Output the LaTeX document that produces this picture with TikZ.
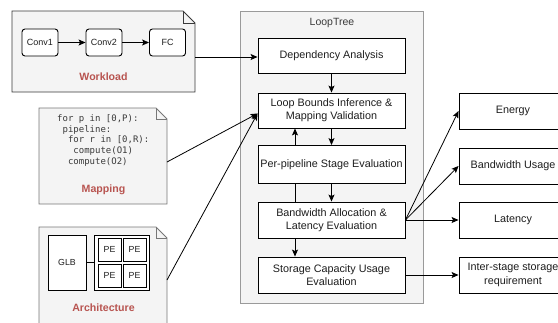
\documentclass[tikz,border=0pt]{standalone}
\usepackage{fontspec}
\setmainfont{Liberation Sans}
\newfontfamily\codefont{DejaVu Sans Mono}
\usetikzlibrary{arrows.meta,calc}

\definecolor{notefill}{HTML}{F4F4F4}
\definecolor{notedark}{HTML}{3A3A3A}
\definecolor{notegray}{HTML}{777777}
\definecolor{panelgray}{HTML}{9A9A9A}
\definecolor{titlered}{HTML}{B85450}
\definecolor{inktext}{HTML}{1E1E1E}

% folded-corner note: #1 = top-left, #2 = bottom-right, #3 = fold size
\newcommand{\notebox}[4]{%
  \path let \p1=#1, \p2=#2 in
    coordinate (nbA) at (\x1,\y1) coordinate (nbB) at (\x2,\y2);
  \filldraw[fill=notefill,draw=#4,line width=0.9pt]
    (nbA) -- ($(nbA -| nbB)+(-#3,0)$) -- ($(nbA -| nbB)+(0,#3)$)
    -- (nbB) -- (nbA |- nbB) -- cycle;
  \draw[draw=#4,line width=0.9pt]
    ($(nbA -| nbB)+(-#3,0)$) -- ($(nbA -| nbB)+(-#3,#3)$) -- ($(nbA -| nbB)+(0,#3)$);
}

\tikzset{
  x=1pt, y=-1pt,
  arr/.style={-{Stealth[length=7pt,width=6pt,inset=1.5pt]}, line width=0.8pt, draw=black},
  conn/.style={line width=0.8pt, draw=black},
  stepbox/.style={draw=black, fill=white, line width=0.9pt, minimum width=147pt,
    minimum height=35pt, align=center, font=\fontsize{10.8}{13.3}\selectfont,
    text=inktext, inner sep=0pt},
  outbox/.style={draw=black, fill=white, line width=0.9pt, minimum width=108pt,
    minimum height=36pt, align=center, font=\fontsize{10.8}{13.3}\selectfont,
    text=inktext, inner sep=0pt},
  layerbox/.style={draw=black, fill=white, rounded corners=3pt, line width=0.9pt,
    minimum width=36pt, minimum height=27pt, font=\fontsize{9}{11}\selectfont,
    text=inktext, inner sep=0pt},
  hwbox/.style={draw=black, fill=white, line width=0.9pt, inner sep=0pt,
    font=\fontsize{8.8}{10}\selectfont, text=inktext},
  notetitle/.style={font=\fontsize{10.6}{12}\selectfont\bfseries, text=titlered},
}

\begin{document}
\begin{tikzpicture}
\useasboundingbox (0,0) rectangle (558,322);

% ---------------- Workload note ----------------
\notebox{(12,11)}{(195,92)}{12}{notedark}
\node[layerbox] (conv1) at (40,42.5) {Conv1};
\node[layerbox] (conv2) at (104,42.5) {Conv2};
\node[layerbox] (fc) at (167.5,42.5) {FC};
\draw[arr] (conv1) -- (conv2);
\draw[arr] (conv2) -- (fc);
\node[notetitle] (wltitle) at (103.5,77) {Workload};
\coordinate (wlout) at (195,57);

% ---------------- Mapping note ----------------
\notebox{(39,108)}{(167,204)}{11}{notegray}
\node[anchor=north west, align=left, inner sep=0pt, text=notedark,
      font=\codefont\fontsize{9}{10.7}\selectfont] (code) at (57,114.5)
  {for p in [0,P):\\
   \phantom{x}pipeline:\\
   \phantom{xx}for r in [0,R):\\
   \phantom{xxx}compute(O1)\\
   \phantom{xx}compute(O2)};
\node[notetitle] (maptitle) at (103.5,190) {Mapping};
\coordinate (mapout) at (167,162);

% ---------------- Architecture note ----------------
\notebox{(39,227)}{(167,330)}{11}{notegray}
\node[hwbox, minimum width=38pt, minimum height=55pt] (glb) at (67,262.5) {GLB};
\node[draw=black, fill=white, line width=0.9pt, minimum width=55pt,
      minimum height=55pt, inner sep=0pt] (pegrid) at (121.5,262.5) {};
\node[hwbox, minimum width=23pt, minimum height=23pt] (pe1) at (109.5,249.5) {PE};
\node[hwbox, minimum width=23pt, minimum height=23pt] (pe2) at (134.5,249.5) {PE};
\node[hwbox, minimum width=23pt, minimum height=23pt] (pe3) at (109.5,275.5) {PE};
\node[hwbox, minimum width=23pt, minimum height=23pt] (pe4) at (134.5,275.5) {PE};
\draw[conn] (glb.east) -- (pegrid.west);
\node[notetitle] (archtitle) at (103.5,308) {Architecture};
\coordinate (archout) at (167,280);

% ---------------- LoopTree panel ----------------
\node[draw=panelgray, fill=notefill, line width=0.9pt, minimum width=183pt,
      minimum height=292pt, inner sep=0pt] (panel) at (331.5,157) {};
\node[font=\fontsize{10.5}{12}\selectfont, text=notedark] (paneltitle) at (332,23) {LoopTree};

\node[stepbox] (dep) at (331.5,55.5) {Dependency Analysis};
\node[stepbox] (lb) at (331.5,110.5) {Loop Bounds Inference \&\\Mapping Validation};
\node[stepbox, minimum height=36pt] (ba) at (331.5,220) {Bandwidth Allocation \&\\Latency Evaluation};
\node[stepbox, minimum height=36pt] (st) at (331.5,275) {Storage Capacity Usage\\Evaluation};

% feedback from bandwidth allocation runs behind the per-pipeline stage box
\coordinate (lane) at (295,0);
\draw[arr] (lane |- ba.north) -- (lane |- lb.south);
\node[stepbox, minimum height=38pt] (per) at (331.5,164.5) {Per-pipeline Stage Evaluation};

\draw[arr] (dep.south) -- (lb.north);
\draw[arr] (lb.south) -- (per.north);
\draw[arr] (per.south) -- (ba.north);
\draw[arr] (lane |- ba.south) -- (lane |- st.north);

% ---------------- outputs ----------------
\node[outbox] (energy) at (513,111) {Energy};
\node[outbox] (bwuse) at (513,166) {Bandwidth Usage};
\node[outbox] (lat) at (513,220) {Latency};
\node[outbox] (isreq) at (513,275) {Inter-stage storage\\requirement};

% ---------------- connectors ----------------
\coordinate (lbin) at ($(lb.west)+(0,3)$);
\draw[arr] (wlout) -- (wlout -| dep.west);
\draw[arr] (mapout) -- (lbin);
\draw[arr] (archout) -- (lbin);
\draw[arr] (ba.east) -- (energy.west);
\draw[arr] (ba.east) -- (bwuse.west);
\draw[arr] (ba.east) -- (lat.west);
\draw[arr] (st.east) -- (isreq.west);
\end{tikzpicture}
\end{document}
